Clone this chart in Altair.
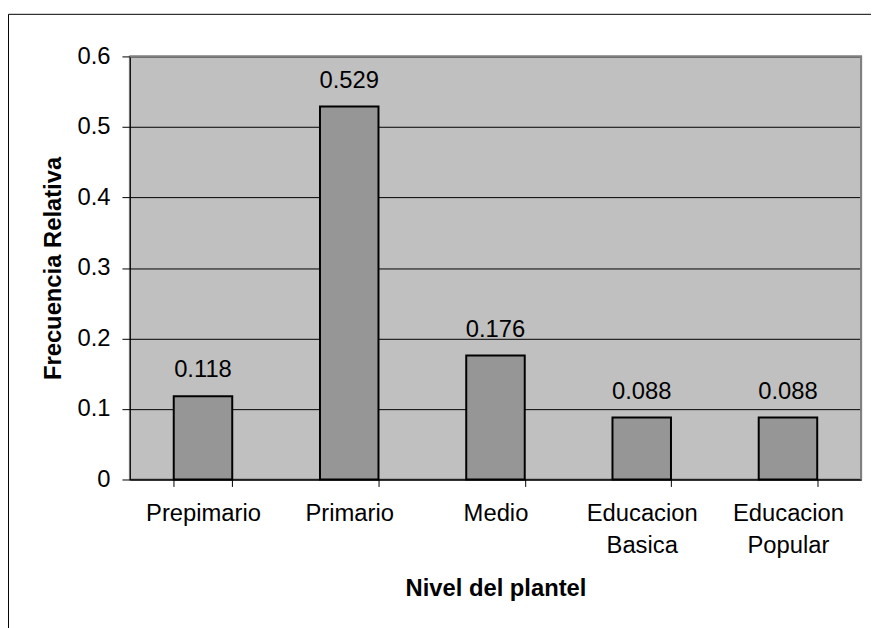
import altair as alt
import pandas as pd

categories = ["Prepimario", "Primario", "Medio", "Educacion Basica", "Educacion Popular"]
values = [0.118, 0.529, 0.176, 0.088, 0.088]
y_ticks = [0, 0.1, 0.2, 0.3, 0.4, 0.5, 0.6]

W, H = 738, 427
FONT = "Liberation Sans"
FS = 24

df = pd.DataFrame({"nivel": categories, "frec": values})

x_enc = alt.X(
    "nivel:N",
    sort=categories,
    scale=alt.Scale(paddingInner=0.6, paddingOuter=0.3),
    axis=alt.Axis(
        title="Nivel del plantel",
        labelAngle=0,
        labelExpr="split(datum.label, ' ')",
        labelFont=FONT, labelFontSize=FS, labelColor="black",
        labelBaseline="top", labelLineHeight=33, labelPadding=15,
        tickSize=7, tickColor="black", tickBand="extent",
        domainColor="black", domainWidth=1,
        titleFont=FONT, titleFontSize=FS, titleFontWeight="bold", titleColor="black",
        titleY=117, titleX=W / 2, titleBaseline="alphabetic", titleAlign="center",
        grid=False,
    ),
)

y_enc = alt.Y(
    "frec:Q",
    scale=alt.Scale(domain=[0, 0.6], nice=False),
    axis=alt.Axis(
        title="Frecuencia Relativa",
        values=y_ticks, format="~g",
        labelFont=FONT, labelFontSize=FS, labelColor="black", labelPadding=12,
        tickSize=8, tickColor="black",
        domainColor="black", domainWidth=1,
        grid=True, gridColor="black", gridWidth=1, gridOpacity=1,
        titleFont=FONT, titleFontSize=FS, titleFontWeight="bold", titleColor="black",
        titleX=-70, titleY=H / 2, titleAngle=-90, titleBaseline="alphabetic", titleAlign="center",
    ),
)

base = alt.Chart(df)

bars = base.mark_bar(color="#969696", stroke="black", strokeWidth=2).encode(x=x_enc, y=y_enc)

labels = base.mark_text(
    font=FONT, fontSize=FS, color="black", baseline="alphabetic", dy=-19
).encode(x=alt.X("nivel:N", sort=categories), y="frec:Q", text=alt.Text("frec:Q", format=".3f"))

one = alt.Chart(pd.DataFrame({"k": [0]}))

frame = one.mark_rect(fill="transparent", stroke="black", strokeWidth=1).encode(
    x=alt.value(-122.5), x2=alt.value(900), y=alt.value(-42.5), y2=alt.value(700)
)

top_border = one.mark_rule(color="#808080", strokeWidth=2).encode(
    x=alt.value(0), x2=alt.value(W + 1), y=alt.value(0)
)
right_border = one.mark_rule(color="#808080", strokeWidth=2).encode(
    x=alt.value(W), y=alt.value(0), y2=alt.value(H)
)

chart = alt.layer(frame, bars, labels, top_border, right_border).properties(
    width=W,
    height=H,
    autosize=alt.AutoSizeParams(type="none"),
    padding={"left": 123, "top": 46, "right": 10, "bottom": 147},
    background="white",
).configure_view(fill="#C0C0C0", stroke="#808080", strokeWidth=2)

chart.save("out.html", embed_options={"renderer": "svg", "actions": False})
